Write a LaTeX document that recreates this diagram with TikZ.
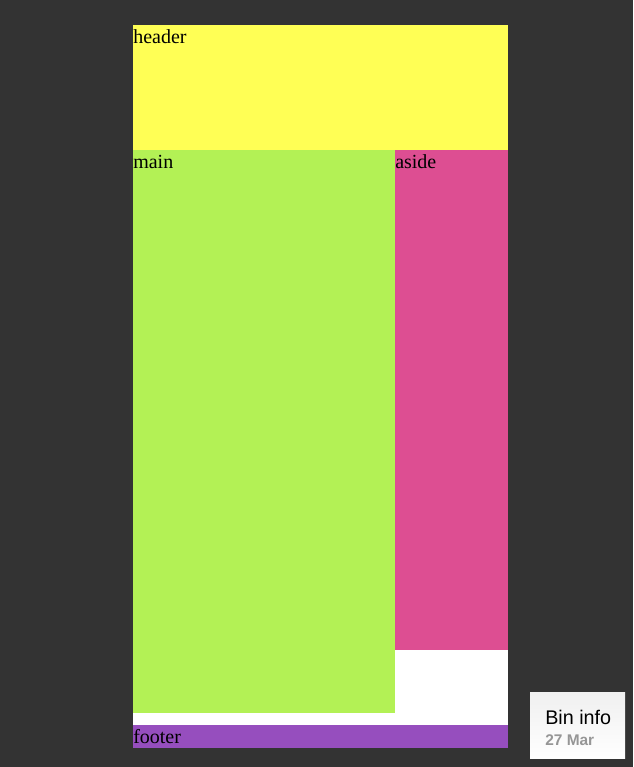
\documentclass[tikz,border=0pt]{standalone}
\usepackage{fontspec}
\setmainfont{Liberation Serif}
\newfontfamily\uifont{Liberation Sans}
\usetikzlibrary{positioning}
\definecolor{pagebg}{RGB}{51, 51, 51}
\definecolor{headyellow}{RGB}{255, 255, 85}
\definecolor{maingreen}{RGB}{179, 241, 85}
\definecolor{asidepink}{RGB}{221, 78, 146}
\definecolor{footpurple}{RGB}{150, 78, 190}
\definecolor{infogray}{RGB}{150, 150, 150}

\begin{document}
\begin{tikzpicture}[
    x=0.75pt, y=-0.75pt,
    area/.style={font=\fontsize{15}{17}\selectfont, inner sep=0pt, anchor=base west, text=black},
    infotitle/.style={font=\uifont\fontsize{14.8}{17}\selectfont, inner sep=0pt, anchor=base west},
    infodate/.style={font=\uifont\bfseries\fontsize{11.6}{13}\selectfont, inner sep=0pt,
                     anchor=base west, text=infogray},
]
    % page and boxes
    \fill[pagebg] (0,0) rectangle (633,767);
    \useasboundingbox (0,0) rectangle (633,767);
    \fill[white] (133,25) rectangle (508,748);
    \fill[headyellow] (133,25) rectangle (508,150);
    \fill[maingreen] (133,150) rectangle (395,713);
    \fill[asidepink] (395,150) rectangle (508,650);
    \fill[footpurple] (133,725) rectangle (508,748);

    \node[area] (header) at (133,43.5) {header};
    \node[area] (main) at (133,168.5) {main};
    \node[area] (aside) at (395,168.5) {aside};
    \node[area] (footer) at (133,743.5) {footer};

    % bin info badge
    \shade[top color=gray!12, bottom color=white] (530,692) rectangle (625,758);
    \node[infotitle] (bininfo) at (545,724.5) {Bin info};
    \node[infodate] (bindate) at (545,745.5) {27 Mar};
\end{tikzpicture}
\end{document}
